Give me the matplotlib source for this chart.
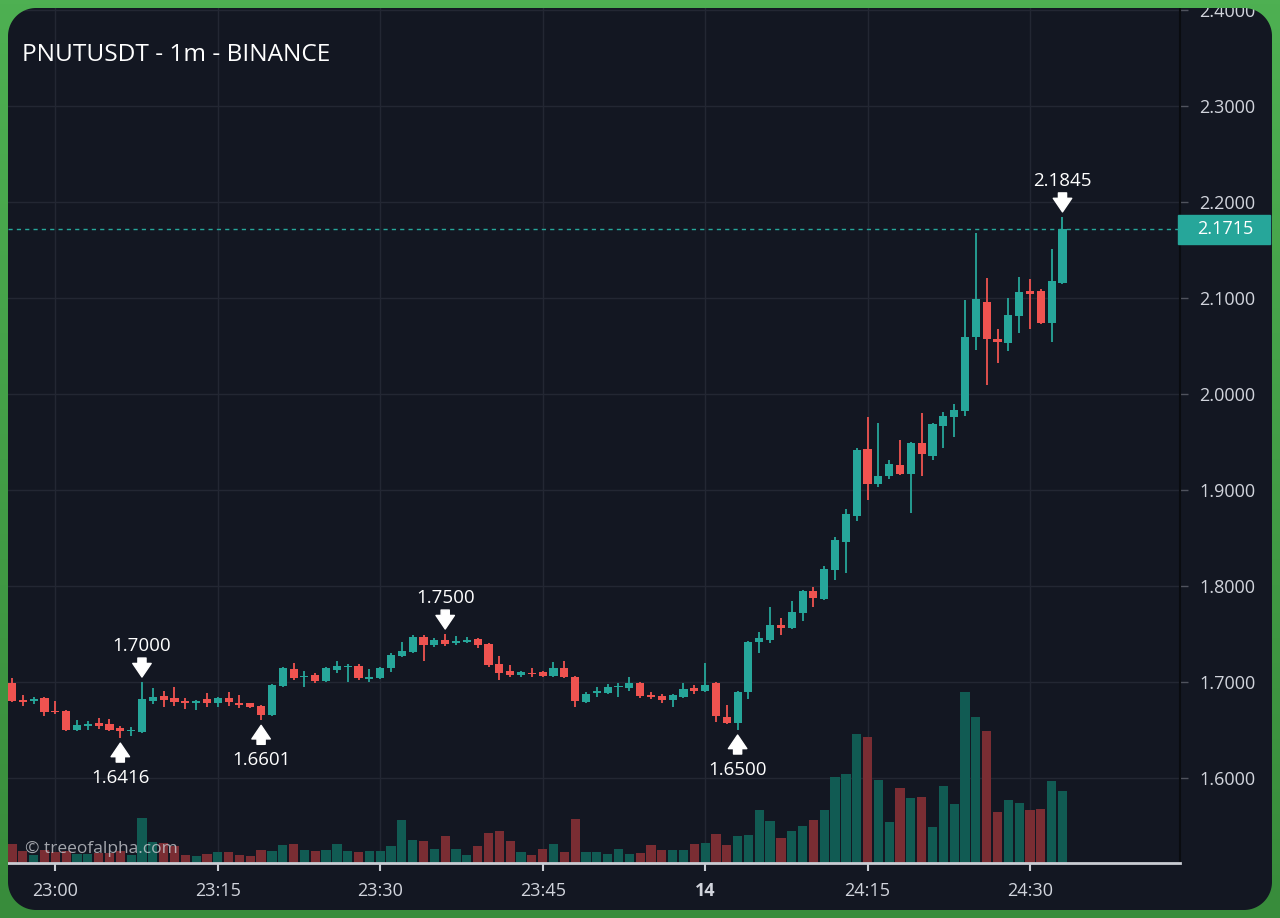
import numpy as np
import matplotlib
matplotlib.use("Agg")
import matplotlib.pyplot as plt
from matplotlib.path import Path
from matplotlib.patches import PathPatch, Rectangle
import matplotlib.transforms as mtransforms

plt.rcParams['font.family'] = ['Open Sans', 'DejaVu Sans']

# ---------------- data (1-minute candles, first candle 22:56) ----------------
opens = [1.6990, 1.6812, 1.6802, 1.6833, 1.6698, 1.6698, 1.6500, 1.6547, 1.6573, 1.6563,
         1.6521, 1.6490, 1.6479, 1.6802, 1.6854, 1.6833, 1.6802, 1.6781, 1.6823, 1.6781,
         1.6833, 1.6783, 1.6777, 1.6750, 1.6656, 1.6958, 1.7135, 1.7052, 1.7073, 1.7010,
         1.7125, 1.7156, 1.7167, 1.7031, 1.7042, 1.7146, 1.7271, 1.7313, 1.7469, 1.7385,
         1.7438, 1.7406, 1.7417, 1.7448, 1.7396, 1.7188, 1.7115, 1.7073, 1.7094, 1.7104,
         1.7063, 1.7146, 1.7052, 1.6792, 1.6885, 1.6885, 1.6948, 1.6938, 1.6990, 1.6865,
         1.6854, 1.6812, 1.6844, 1.6938, 1.6906, 1.6990, 1.6635, 1.6573, 1.6896, 1.7417,
         1.7438, 1.7594, 1.7563, 1.7719, 1.7948, 1.7865, 1.8167, 1.8458, 1.8729, 1.9427,
         1.9063, 1.9146, 1.9260, 1.9167, 1.9490, 1.9354, 1.9667, 1.9760, 1.9823, 2.0594,
         2.0958, 2.0573, 2.0531, 2.0813, 2.1073, 2.1073, 2.0740, 2.1156]
highs = [1.7042, 1.6865, 1.6844, 1.6844, 1.6802, 1.6708, 1.6604, 1.6594, 1.6625, 1.6615,
         1.6542, 1.6531, 1.7000, 1.6938, 1.6906, 1.6948, 1.6833, 1.6812, 1.6885, 1.6844,
         1.6896, 1.6870, 1.6786, 1.6760, 1.6979, 1.7156, 1.7198, 1.7115, 1.7094, 1.7156,
         1.7219, 1.7188, 1.7188, 1.7135, 1.7156, 1.7302, 1.7417, 1.7490, 1.7490, 1.7458,
         1.7500, 1.7479, 1.7469, 1.7458, 1.7406, 1.7271, 1.7177, 1.7115, 1.7146, 1.7115,
         1.7208, 1.7219, 1.7063, 1.6896, 1.6948, 1.6979, 1.6990, 1.7052, 1.7000, 1.6896,
         1.6875, 1.6875, 1.6990, 1.6969, 1.7198, 1.7000, 1.6760, 1.6906, 1.7427, 1.7521,
         1.7781, 1.7667, 1.7844, 1.7958, 1.7990, 1.8208, 1.8510, 1.8802, 1.9438, 1.9760,
         1.9698, 1.9313, 1.9521, 1.9500, 1.9802, 1.9698, 1.9813, 1.9896, 2.0979, 2.1677,
         2.1208, 2.0677, 2.1000, 2.1219, 2.1198, 2.1094, 2.1510, 2.1845]
lows = [1.6795, 1.6750, 1.6771, 1.6646, 1.6667, 1.6490, 1.6490, 1.6500, 1.6510, 1.6495,
        1.6416, 1.6438, 1.6469, 1.6771, 1.6740, 1.6750, 1.6719, 1.6708, 1.6740, 1.6740,
        1.6750, 1.6733, 1.6734, 1.6601, 1.6646, 1.6948, 1.7021, 1.6948, 1.6990, 1.7000,
        1.7094, 1.7000, 1.7021, 1.7000, 1.7031, 1.7104, 1.7260, 1.7302, 1.7219, 1.7365,
        1.7375, 1.7385, 1.7406, 1.7354, 1.7156, 1.7021, 1.7052, 1.7052, 1.7052, 1.7052,
        1.7052, 1.7042, 1.6740, 1.6786, 1.6844, 1.6875, 1.6844, 1.6906, 1.6833, 1.6823,
        1.6781, 1.6740, 1.6833, 1.6875, 1.6901, 1.6583, 1.6563, 1.6500, 1.6823, 1.7302,
        1.7406, 1.7490, 1.7552, 1.7635, 1.7781, 1.7854, 1.8063, 1.8135, 1.8677, 1.8896,
        1.9031, 1.9115, 1.9156, 1.8760, 1.9146, 1.9313, 1.9438, 1.9552, 1.9771, 2.0458,
        2.0094, 2.0323, 2.0448, 2.0635, 2.0677, 2.0729, 2.0542, 2.1146]
closes = [1.6802, 1.6797, 1.6823, 1.6688, 1.6688, 1.6500, 1.6552, 1.6563, 1.6542, 1.6500,
          1.6490, 1.6500, 1.6823, 1.6844, 1.6812, 1.6792, 1.6781, 1.6802, 1.6781, 1.6833,
          1.6792, 1.6763, 1.6740, 1.6656, 1.6969, 1.7146, 1.7042, 1.7063, 1.7010, 1.7146,
          1.7167, 1.7167, 1.7042, 1.7052, 1.7146, 1.7281, 1.7323, 1.7469, 1.7385, 1.7438,
          1.7396, 1.7427, 1.7438, 1.7385, 1.7177, 1.7094, 1.7073, 1.7104, 1.7083, 1.7063,
          1.7146, 1.7052, 1.6802, 1.6875, 1.6906, 1.6948, 1.6958, 1.6990, 1.6854, 1.6844,
          1.6812, 1.6865, 1.6927, 1.6906, 1.6969, 1.6646, 1.6573, 1.6896, 1.7417, 1.7458,
          1.7594, 1.7563, 1.7729, 1.7948, 1.7875, 1.8177, 1.8479, 1.8750, 1.9417, 1.9063,
          1.9146, 1.9271, 1.9167, 1.9490, 1.9375, 1.9688, 1.9771, 1.9833, 2.0594, 2.0990,
          2.0573, 2.0542, 2.0823, 2.1063, 2.1042, 2.0740, 2.1177, 2.1715]
volumes = [19, 12, 8, 13, 11, 12, 9, 9, 10, 10,
           12, 8, 45, 21, 20, 17, 8, 7, 9, 11,
           11, 8, 7, 13, 12, 18, 19, 13, 12, 13,
           19, 12, 11, 12, 12, 17, 43, 23, 22, 14,
           27, 14, 8, 17, 30, 32, 22, 11, 8, 14,
           19, 11, 44, 11, 11, 9, 14, 9, 10, 18,
           13, 13, 13, 19, 20, 29, 18, 27, 28, 53,
           42, 25, 32, 37, 43, 53, 86, 89, 129, 126,
           83, 41, 75, 65, 66, 36, 77, 59, 171, 146,
           132, 51, 63, 60, 53, 54, 82, 72]

time_tick_idx = [4, 19, 34, 49, 64, 79, 94]
time_tick_labels = ['23:00', '23:15', '23:30', '23:45', '14', '24:15', '24:30']
price_ticks = [1.6, 1.7, 1.8, 1.9, 2.0, 2.1, 2.2, 2.3, 2.4]
last_price = 2.1715
# (candle index, side, label value)
marks = [(12, 'high', 1.7000), (10, 'low', 1.6416), (23, 'low', 1.6601),
         (40, 'high', 1.7500), (67, 'low', 1.6500), (97, 'high', 2.1845)]
title = 'PNUTUSDT - 1m - BINANCE'
watermark = '© treeofalpha.com'

# ---------------- style ----------------
W, H = 1280, 918
BG = '#131722'
GREEN = '#26a69a'
RED = '#ef5350'
VGREEN = '#115b53'
VRED = '#7a2d33'
GRID = '#232733'
TXT = '#d1d4dc'

fig = plt.figure(figsize=(W / 100, H / 100), dpi=100, facecolor=BG)

left, right, top, bottom = 8, 1180, 8, 863
ax = fig.add_axes([left / W, 1 - bottom / H, (right - left) / W, (bottom - top) / H])
ax.patch.set_visible(False)

o = np.array(opens); h = np.array(highs); l = np.array(lows); c = np.array(closes)
v = np.array(volumes, dtype=float)
x = np.arange(len(o))
up = c >= o
col = np.where(up, GREEN, RED)
vcol = np.where(up, VGREEN, VRED)

# volume (bottom ~20% of the pane)
VOL_AXIS_MAX = 855.0
blend = mtransforms.blended_transform_factory(ax.transData, ax.transAxes)
ax.bar(x, v / VOL_AXIS_MAX, width=0.85, bottom=0, color=vcol, linewidth=0,
       transform=blend, zorder=2)

# candles
ax.vlines(x, l, h, colors=col, linewidth=1.3, zorder=3)
body_bottom = np.minimum(o, c)
body_h = np.maximum(np.abs(c - o), 0.0013)
ax.bar(x, body_h, bottom=body_bottom, width=0.75, color=col, linewidth=0, zorder=4)

ax.set_xlim(-0.37, 107.85)
ax.set_ylim(1.5115, 2.4021)

# grid & axes
ax.set_axisbelow(True)
ax.grid(True, color=GRID, linewidth=1.0)
ax.set_yticks(price_ticks)
ax.set_yticklabels([f'{p:.4f}' for p in price_ticks])
ax.yaxis.tick_right()
ax.tick_params(axis='y', length=6, width=1, color='#50535e', labelcolor=TXT,
               labelsize=13, pad=8)
ax.set_xticks(time_tick_idx)
ax.set_xticklabels(time_tick_labels)
ax.tick_params(axis='x', length=6, width=1.5, color='#c9ccd3', labelcolor=TXT,
               labelsize=13, pad=8)
ax.get_xticklabels()[4].set_fontweight('bold')
for s in ['top', 'left']:
    ax.spines[s].set_visible(False)
ax.spines['bottom'].set_color('#c9ccd3')
ax.spines['bottom'].set_linewidth(2)
ax.spines['right'].set_color('#0a0c10')
ax.spines['right'].set_linewidth(1.5)

# last price line and label
ax.axhline(last_price, color=GREEN, linewidth=1, linestyle=(0, (3, 3)), zorder=5)
blend_y = mtransforms.blended_transform_factory(ax.transAxes, ax.transData)
box_h = 29 / 855 * (2.4021 - 1.5115)
ax.add_patch(Rectangle((0.998, last_price - box_h / 2), 0.0785, box_h,
                       transform=blend_y, color=GREEN, clip_on=False, zorder=6))
tr = mtransforms.offset_copy(blend_y, fig=fig, x=17, y=0, units='dots')
ax.text(1.0, last_price, f'{last_price:.4f}', transform=tr, color='white',
        fontsize=13, ha='left', va='center', zorder=7, clip_on=False)

# high / low markers
arrow_style = 'simple,head_length=0.7,head_width=0.95,tail_width=0.42'
for idx, side, val in marks:
    if side == 'high':
        xy_tr = mtransforms.offset_copy(ax.transData, fig=fig, x=0, y=5, units='dots')
        ax.annotate('', xy=(idx, val), xycoords=xy_tr, xytext=(0, 19),
                    textcoords='offset pixels',
                    arrowprops=dict(arrowstyle=arrow_style, color='white',
                                    shrinkA=0, shrinkB=0, mutation_scale=14), zorder=8)
        t_tr = mtransforms.offset_copy(ax.transData, fig=fig, x=0, y=36, units='dots')
    else:
        xy_tr = mtransforms.offset_copy(ax.transData, fig=fig, x=0, y=-5, units='dots')
        ax.annotate('', xy=(idx, val), xycoords=xy_tr, xytext=(0, -19),
                    textcoords='offset pixels',
                    arrowprops=dict(arrowstyle=arrow_style, color='white',
                                    shrinkA=0, shrinkB=0, mutation_scale=14), zorder=8)
        t_tr = mtransforms.offset_copy(ax.transData, fig=fig, x=0, y=-40, units='dots')
    ax.text(idx, val, f'{val:.4f}', transform=t_tr, color='white', fontsize=13.5,
            ha='center', va='center', zorder=8)

# title & watermark
fig.text(22 / W, 1 - 55 / H, title, color='white', fontsize=17.6, ha='left', va='center')
fig.text(25 / W, 1 - 849 / H, watermark, color='#c8cad0', alpha=0.8, fontsize=12.5,
         ha='left', va='center', zorder=5)

# ---------------- green rounded frame overlay ----------------
ax_o = fig.add_axes([0, 0, 1, 1], zorder=20)
ax_o.set_xlim(0, W)
ax_o.set_ylim(0, H)
ax_o.axis('off')
ax_o.patch.set_visible(False)


def rounded_rect(x0, y0, x1, y1, r, n=24):
    pts = []
    corners = [(x1 - r, y0 + r, -90, 0), (x1 - r, y1 - r, 0, 90),
               (x0 + r, y1 - r, 90, 180), (x0 + r, y0 + r, 180, 270)]
    for cx, cy, a0, a1 in corners:
        t = np.radians(np.linspace(a0, a1, n))
        pts += list(zip(cx + r * np.cos(t), cy + r * np.sin(t)))
    return np.array(pts)


outer = np.array([(0, 0), (W, 0), (W, H), (0, H)], dtype=float)
inner = rounded_rect(8, 8, 1272, 910, 28)[::-1]
verts = np.vstack([outer, outer[:1], inner, inner[:1]])
codes = ([Path.MOVETO] + [Path.LINETO] * (len(outer) - 1) + [Path.CLOSEPOLY] +
         [Path.MOVETO] + [Path.LINETO] * (len(inner) - 1) + [Path.CLOSEPOLY])
frame_path = Path(verts, codes)
clip = PathPatch(frame_path, transform=ax_o.transData, facecolor='none', edgecolor='none')
ax_o.add_patch(clip)

top_c = np.array([0x4e, 0xb0, 0x52]) / 255
bot_c = np.array([0x38, 0x8c, 0x3b]) / 255
tt = np.linspace(0, 1, 256)[:, None]
grad = (top_c[None, :] * (1 - tt) + bot_c[None, :] * tt)[:, None, :]
im = ax_o.imshow(grad, extent=(0, W, 0, H), origin='upper', aspect='auto', zorder=1)
im.set_clip_path(clip)

fig.savefig('out.png', dpi=100, facecolor=BG)
